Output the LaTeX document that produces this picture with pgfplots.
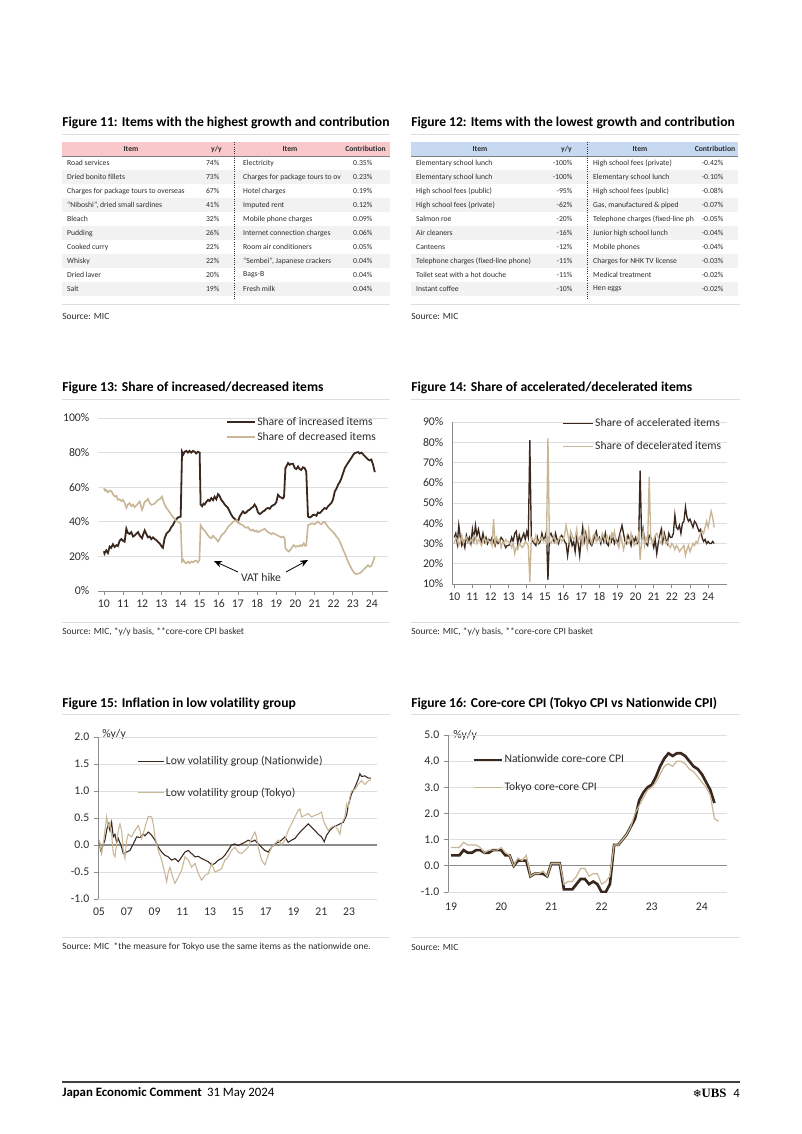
\documentclass[border=0pt]{standalone}
\usepackage{pgfplots}
\pgfplotsset{compat=1.18}
\usepackage{pgfplotstable}
\usepackage{fontspec}
\setmainfont{Carlito}[Ligatures={NoCommon,NoDiscretionary,NoContextual}]
\newfontfamily\serifb{Liberation Serif}
\newfontfamily\dejavu{DejaVu Sans}
\usetikzlibrary{arrows.meta}
\definecolor{dk}{RGB}{58,40,30}
\definecolor{tanc}{RGB}{201,182,150}
\definecolor{pinkh}{RGB}{248,200,202}
\definecolor{blueh}{RGB}{198,217,240}
\definecolor{rowg}{RGB}{242,242,242}
\definecolor{gridc}{RGB}{222,222,222}
\definecolor{axc}{RGB}{140,140,140}
\definecolor{txt}{RGB}{45,45,45}

\pgfplotstableread{
m acc dec
0 33 30
1 35 33
2 30 32
3 39 29
4 33 31
5 29 34
6 31 30
7 28 32
8 34 33
9 31 31
10 33 30
11 30 32
12 37 31
13 32 34
14 39 33
15 34 30
16 37 32
17 33 31
18 31 29
19 35 31
20 31 33
21 33 30
22 30 32
23 32 31
24 31 31
25 33 29
26 31 42
27 29 30
28 32 33
29 30 31
30 31 32
31 33 28
32 32 31
33 30 30
34 28 32
35 29 31
36 29 31
37 30 30
38 33 28
39 31 30
40 35 25
41 36 28
42 30 27
43 34 30
44 31 29
45 33 28
46 35 29
47 32 31
48 36 30
49 33 29
50 81 11
51 33 33
52 31 32
53 30 31
54 29 34
55 33 30
56 30 31
57 31 32
58 35 33
59 32 31
60 33 32
61 36 30
62 12 82
63 34 31
64 35 30
65 33 32
66 31 34
67 35 31
68 32 30
69 30 32
70 33 33
71 34 31
72 33 32
73 31 34
74 30 39
75 24 35
76 30 31
77 33 36
78 29 34
79 31 32
80 26 33
81 33 37
82 30 31
83 24 33
84 32 34
85 38 30
86 31 36
87 35 33
88 29 28
89 33 37
90 30 32
91 29 30
92 31 34
93 34 35
94 36 31
95 32 33
96 33 32
97 30 31
98 34 35
99 31 33
100 35 31
101 30 34
102 29 32
103 33 30
104 31 35
105 34 33
106 30 36
107 32 31
108 30 30
109 33 28
110 36 34
111 39 31
112 35 27
113 31 30
114 30 33
115 34 30
116 32 31
117 29 35
118 33 32
119 31 29
120 33 30
121 30 31
122 31 35
123 66 22
124 32 31
125 37 36
126 31 29
127 30 33
128 29 31
129 34 63
130 33 33
131 31 30
132 28 32
133 32 34
134 25 35
135 30 33
136 34 31
137 37 30
138 31 36
139 35 33
140 32 30
141 30 31
142 35 29
143 33 28
144 33 30
145 35 29
146 44 27
147 38 29
148 37 28
149 39 26
150 35 27
151 40 28
152 41 29
153 48 24
154 43 27
155 41 29
156 42 26
157 40 28
158 38 30
159 41 29
160 40 31
161 38 30
162 36 33
163 37 35
164 33 36
165 31 35
166 32 38
167 30 41
168 31 38
169 30 42
170 30 46
171 31 43
172 30 38
}\tabAD

\pgfplotstableread{
m nat tok
0 0.4 0.7
1 0.4 0.7
2 0.4 0.7
3 0.6 0.9
4 0.5 0.8
5 0.5 0.8
6 0.6 0.8
7 0.6 0.7
8 0.5 0.5
9 0.5 0.6
10 0.6 0.6
11 0.6 0.6
12 0.6 0.7
13 0.4 0.5
14 0.4 0.4
15 0.0 0.0
16 0.2 0.3
17 0.2 0.2
18 0.2 0.4
19 -0.4 -0.4
20 -0.3 -0.3
21 -0.3 -0.3
22 -0.3 -0.2
23 -0.4 -0.4
24 0.1 0.1
25 0.1 0.1
26 0.1 0.1
27 -0.9 -0.7
28 -0.9 -0.6
29 -0.9 -0.6
30 -0.7 -0.4
31 -0.5 -0.1
32 -0.5 -0.1
33 -0.7 -0.4
34 -0.6 -0.3
35 -0.7 -0.3
36 -1.0 -0.7
37 -1.0 -0.6
38 -0.7 -0.4
39 0.8 0.8
40 0.8 0.8
41 1.0 1.0
42 1.2 1.2
43 1.5 1.5
44 1.8 2.0
45 2.5 2.3
46 2.8 2.6
47 3.0 2.9
48 3.1 3.0
49 3.4 3.2
50 3.8 3.5
51 4.1 3.8
52 4.3 3.9
53 4.2 3.8
54 4.3 4.0
55 4.3 4.0
56 4.2 3.9
57 4.0 3.7
58 3.8 3.6
59 3.7 3.4
60 3.5 3.2
61 3.2 3.0
62 2.9 2.7
63 2.4 1.8
64 nan 1.7
}\tabCC

\pgfplotsset{
  ubs/.style={
    scale only axis, anchor=south west,
    axis line style={-, draw=axc, line width=0.6pt},
    tick style={draw=axc, line width=0.6pt},
    major tick length=3pt,
    tick align=outside,
    ymajorgrids, grid style={draw=gridc, line width=0.6pt},
    tick label style={font=\fontsize{8.8}{10}\selectfont, text=txt},
    xticklabel style={text height=6.2pt, text depth=0pt},
    /pgf/number format/assume math mode=true,
    legend style={draw=none, fill=none, font=\fontsize{8.7}{10}\selectfont, inner sep=0pt, text=txt,
      nodes={inner sep=1.2pt}},
    legend cell align=left,
    axis x line*=bottom, axis y line*=left,
  }
}

\newcommand{\tabf}{\fontsize{5.75}{6.4}\selectfont}
\newcommand{\rowA}[5]{%
  \node[anchor=west,text=txt,font=\tabf] at (62.5,#1) {#2};
  \node[anchor=east,text=txt,font=\tabf] at (224,#1) {#3};
  \node[anchor=west,text=txt,font=\tabf] at (238.5,#1) {#4};
  \node[anchor=east,text=txt,font=\tabf] at (377,#1) {#5};}
\newcommand{\rowB}[5]{%
  \node[anchor=west,text=txt,font=\tabf] at (411.5,#1) {#2};
  \node[anchor=east,text=txt,font=\tabf] at (577,#1) {#3};
  \node[anchor=west,text=txt,font=\tabf] at (588.5,#1) {#4};
  \node[anchor=east,text=txt,font=\tabf] at (728,#1) {#5};}

\begin{document}
\begin{tikzpicture}
\begin{scope}[x=0.75pt,y=-0.75pt]
\fill[white] (0,0) rectangle (802,1134);
% ---------- titles ----------
\foreach \xx/\yy/\tt in {62/123/{Figure 11: Items with the highest growth and contribution},
                          411/123/{Figure 12: Items with the lowest growth and contribution},
                          62/388/{Figure 13: Share of increased/decreased items},
                          411/388/{Figure 14: Share of accelerated/decelerated items},
                          62/704/{Figure 15: Inflation in low volatility group},
                          411/704/{Figure 16: Core-core CPI (Tokyo CPI vs Nationwide CPI)}}
  {\node[anchor=west,inner sep=0pt,font=\fontsize{10.2}{12}\selectfont\bfseries] at (\xx,\yy) {\tt};}
\foreach \yy in {134,399,714}{
  \draw[gridc,line width=0.6pt] (62,\yy) -- (390,\yy);
  \draw[gridc,line width=0.6pt] (411,\yy) -- (740,\yy);}
% ---------- sources ----------
\draw[gridc,line width=0.6pt] (62,304) -- (390,304);
\draw[gridc,line width=0.6pt] (411,304) -- (740,304);
\draw[gridc,line width=0.6pt] (62,622) -- (390,622);
\draw[gridc,line width=0.6pt] (411,622) -- (740,622);
\draw[gridc,line width=0.6pt] (62,937) -- (390,937);
\draw[gridc,line width=0.6pt] (411,937) -- (740,937);
\begin{scope}[every node/.style={anchor=west,inner sep=0pt,text=txt,font=\fontsize{7.1}{8}\selectfont}]
\node at (62,316) {Source: MIC};
\node at (411,316) {Source: MIC};
\node at (62,632) {Source: MIC, *y/y basis, **core-core CPI basket};
\node at (411,632) {Source: MIC, *y/y basis, **core-core CPI basket};
\node at (62,947) {Source: MIC \ *the measure for Tokyo use the same items as the nationwide one.};
\node at (411,947) {Source: MIC};
\end{scope}
% ---------- table 11 ----------
\fill[pinkh] (62,142) rectangle (390,156);
\foreach \i in {1,3,5,7,9} {\fill[rowg] (62,156+14*\i) rectangle (390,170+14*\i);}
\draw[gray,line width=0.9pt] (62,156.5) -- (390,156.5);
\draw[black!80,densely dotted,line width=0.7pt] (234,142) -- (234,300);
\begin{scope}[every node/.style={text=txt,font=\tabf\bfseries}]
\node at (131,149) {Item};
\node at (216.5,149) {y/y};
\node at (290,149) {Item};
\node at (365.5,149) {Contribution};
\end{scope}
\rowA{163}{Road services}{74\%}{Electricity}{0.35\%}
\rowA{177}{Dried bonito fillets}{73\%}{Charges for package tours to ov}{0.23\%}
\rowA{191}{Charges for package tours to overseas}{67\%}{Hotel charges}{0.19\%}
\rowA{205}{“Niboshi”, dried small sardines}{41\%}{Imputed rent}{0.12\%}
\rowA{219}{Bleach}{32\%}{Mobile phone charges}{0.09\%}
\rowA{233}{Pudding}{26\%}{Internet connection charges}{0.06\%}
\rowA{247}{Cooked curry}{22\%}{Room air conditioners}{0.05\%}
\rowA{261}{Whisky}{22\%}{“Sembei”, Japanese crackers}{0.04\%}
\rowA{275}{Dried laver}{20\%}{Bags-B}{0.04\%}
\rowA{289}{Salt}{19\%}{Fresh milk}{0.04\%}
% ---------- table 12 ----------
\fill[blueh] (411,142) rectangle (738,156);
\foreach \i in {1,3,5,7,9} {\fill[rowg] (411,156+14*\i) rectangle (738,170+14*\i);}
\draw[gray,line width=0.9pt] (411,156.5) -- (738,156.5);
\draw[black!80,densely dotted,line width=0.7pt] (587.5,142) -- (587.5,300);
\begin{scope}[every node/.style={text=txt,font=\tabf\bfseries}]
\node at (480,149) {Item};
\node at (566.5,149) {y/y};
\node at (640,149) {Item};
\node at (715,149) {Contribution};
\end{scope}
\rowB{163}{Elementary school lunch}{-100\%}{High school fees (private)}{-0.42\%}
\rowB{177}{Elementary school lunch}{-100\%}{Elementary school lunch}{-0.10\%}
\rowB{191}{High school fees (public)}{-95\%}{High school fees (public)}{-0.08\%}
\rowB{205}{High school fees (private)}{-62\%}{Gas, manufactured \& piped}{-0.07\%}
\rowB{219}{Salmon roe}{-20\%}{Telephone charges (fixed-line ph}{-0.05\%}
\rowB{233}{Air cleaners}{-16\%}{Junior high school lunch}{-0.04\%}
\rowB{247}{Canteens}{-12\%}{Mobile phones}{-0.04\%}
\rowB{261}{Telephone charges (fixed-line phone)}{-11\%}{Charges for NHK TV license}{-0.03\%}
\rowB{275}{Toilet seat with a hot douche}{-11\%}{Medical treatment}{-0.02\%}
\rowB{289}{Instant coffee}{-10\%}{Hen eggs}{-0.02\%}
% ---------- annotations ----------
\node[text=txt,font=\fontsize{8.8}{10}\selectfont] at (261,577) {VAT hike};
\draw[black,line width=0.6pt,-{Stealth[length=6pt,width=5pt]}] (238,572) -- (214,561);
\draw[black,line width=0.6pt,-{Stealth[length=6pt,width=5pt]}] (286,572) -- (308,560);
\node[anchor=west,inner sep=0pt,text=txt,font=\fontsize{8.8}{10}\selectfont] at (102,734) {\%y/y};
\node[anchor=west,inner sep=0pt,text=txt,font=\fontsize{8.8}{10}\selectfont] at (453,735) {\%y/y};
% ---------- footer ----------
\draw[black!75,line width=0.8pt] (62,1082) -- (740,1082);
\node[anchor=west,inner sep=0pt,font=\fontsize{9.6}{11}\selectfont] at (62,1093) {\textbf{Japan Economic Comment}\hspace{4pt}31 May 2024};
\node[anchor=east,inner sep=0pt,font=\fontsize{9.6}{11}\selectfont] at (740,1093) {{\dejavu\fontsize{8}{9}\selectfont ❄}{\serifb\bfseries UBS}\hspace{5pt}4};
\end{scope}

% ================= Figure 13 =================
\begin{axis}[ubs, at={(73.5pt,-443.25pt)}, width=217.5pt, height=129.75pt,
  xmin=2009.69, xmax=2024.84, ymin=0, ymax=100,
  xtick={2010,2011,2012,2013,2014,2015,2016,2017,2018,2019,2020,2021,2022,2023,2024},
  xticklabels={10,11,12,13,14,15,16,17,18,19,20,21,22,23,24},
  ytick={0,20,40,60,80,100}, yticklabel={\pgfmathprintnumber{\tick}\%},
  y axis line style={draw=none}, ytick style={draw=none},
  legend style={at={(axis description cs:0.44,1.015)}, anchor=north west, row sep=1.2pt},
  legend image code/.code={\draw[#1] (0pt,0pt) -- (21pt,0pt);},
]
\addplot[dk, line width=1.35pt] coordinates {
(2010.00,23) (2010.03,21.6) (2010.12,23.5) (2010.21,22) (2010.30,25.7) (2010.38,25) (2010.47,27) (2010.56,25.5) (2010.65,26.5) (2010.73,26) (2010.82,29) (2010.91,30) (2011.00,29) (2011.08,28.5) (2011.17,36) (2011.25,33.5) (2011.34,33) (2011.43,34) (2011.52,31.5) (2011.60,32) (2011.69,33) (2011.78,34) (2011.87,32) (2011.99,30.5) (2012.06,33) (2012.13,35) (2012.21,33) (2012.30,31) (2012.39,31.5) (2012.47,30) (2012.56,31) (2012.65,30) (2012.73,29.5) (2012.82,28.5) (2012.91,27.5) (2013.00,26) (2013.08,25) (2013.17,30.5) (2013.26,33) (2013.34,34) (2013.43,35) (2013.52,37) (2013.60,38) (2013.69,40) (2013.78,41.5) (2013.87,42.5) (2014.01,43)
(2014.08,80.5) (2014.15,79) (2014.22,80.5) (2014.30,81) (2014.39,80) (2014.47,81) (2014.56,80) (2014.65,81) (2014.74,80.5) (2014.82,79.5) (2014.91,80.5) (2015.00,80)
(2015.05,50) (2015.13,49) (2015.20,50.5) (2015.26,50) (2015.35,51.5) (2015.44,52.7) (2015.52,52) (2015.61,53.7) (2015.70,52.5) (2015.78,54.5) (2015.87,53) (2015.96,56) (2016.04,55) (2016.13,52.7) (2016.22,51.5) (2016.31,50) (2016.40,49) (2016.48,48) (2016.57,46) (2016.66,44) (2016.75,42.5) (2016.83,41.7) (2016.92,41) (2017.00,40) (2017.09,43) (2017.17,44.5) (2017.26,46) (2017.35,45) (2017.44,45.4) (2017.52,46.5) (2017.61,47) (2017.70,48) (2017.78,48.5) (2017.87,50) (2017.96,48.5) (2018.05,45.4) (2018.13,44.5) (2018.22,45) (2018.31,46) (2018.40,46.5) (2018.48,47.5) (2018.57,48) (2018.66,47.5) (2018.75,49) (2018.83,49.5) (2018.92,50) (2019.01,51.5) (2019.09,55.6) (2019.18,54.5) (2019.27,54) (2019.35,53.5) (2019.41,54.5)
(2019.48,71) (2019.55,72.5) (2019.62,74) (2019.70,73) (2019.79,73.5) (2019.88,73.5) (2019.97,71) (2020.05,70.5) (2020.14,72) (2020.22,70.5) (2020.31,70) (2020.40,71.5) (2020.49,71) (2020.57,69)
(2020.66,43) (2020.75,42.5) (2020.84,43) (2020.92,44) (2021.01,44) (2021.10,43.5) (2021.18,45.4) (2021.27,45) (2021.36,46) (2021.44,47) (2021.53,48) (2021.62,47.5) (2021.71,49) (2021.80,50) (2021.88,50.8) (2021.97,53) (2022.06,57.5) (2022.14,59) (2022.23,61.4) (2022.32,63) (2022.40,65) (2022.49,68) (2022.58,71) (2022.66,72.5) (2022.75,74) (2022.84,75.5) (2022.93,77) (2023.01,78.5) (2023.10,79.7) (2023.19,80) (2023.28,80.3) (2023.36,79.5) (2023.45,80) (2023.54,79) (2023.62,78) (2023.71,77) (2023.80,76) (2023.88,75.5) (2023.97,76) (2024.06,73) (2024.15,68.7)
};
\addlegendentry{Share of increased items}
\addplot[tanc, line width=1.2pt] coordinates {
(2010.00,59.5) (2010.06,58) (2010.12,58.5) (2010.21,57) (2010.30,58) (2010.38,57.8) (2010.47,56) (2010.56,54.6) (2010.65,55) (2010.73,52.7) (2010.82,53) (2010.91,52) (2010.99,52.7) (2011.08,51) (2011.17,48) (2011.25,50) (2011.34,50.8) (2011.43,49) (2011.52,50) (2011.60,48.5) (2011.69,49.5) (2011.78,50.5) (2011.87,51.7) (2011.99,46.9) (2012.06,49) (2012.13,51.7) (2012.21,52) (2012.30,53.3) (2012.39,51) (2012.47,49.8) (2012.56,50) (2012.65,50.5) (2012.73,51.5) (2012.82,52.7) (2012.91,53) (2013.03,54.6) (2013.10,52) (2013.17,50) (2013.26,48) (2013.34,47) (2013.43,45.5) (2013.52,44) (2013.60,43) (2013.69,41.7) (2013.78,40.5) (2013.87,40) (2014.01,39)
(2014.08,17) (2014.15,18) (2014.22,16.5) (2014.30,16) (2014.39,17) (2014.47,16) (2014.56,17) (2014.65,16.5) (2014.74,17.5) (2014.82,17.5) (2014.91,16.5) (2014.99,18)
(2015.05,38) (2015.13,36.5) (2015.20,35.5) (2015.26,35) (2015.35,33.5) (2015.44,32) (2015.52,31) (2015.61,30.5) (2015.70,32) (2015.78,31) (2015.87,30) (2015.96,28.6) (2016.04,30) (2016.13,32) (2016.22,33) (2016.31,34) (2016.40,35.5) (2016.48,37) (2016.57,38) (2016.66,39) (2016.75,40) (2016.83,40.5) (2016.92,41) (2017.00,40) (2017.09,39) (2017.17,38.5) (2017.26,38) (2017.35,37) (2017.44,36.5) (2017.52,37) (2017.61,35.5) (2017.70,35) (2017.78,35.5) (2017.87,34.5) (2017.96,35) (2018.05,34) (2018.13,34.5) (2018.22,35) (2018.31,35.5) (2018.40,36) (2018.48,35) (2018.57,34) (2018.66,33.5) (2018.75,32.8) (2018.83,33.5) (2018.92,33) (2019.01,32.5) (2019.09,32) (2019.18,31.5) (2019.27,31) (2019.35,31.5) (2019.44,30.5)
(2019.48,24.7) (2019.57,23.5) (2019.66,22.8) (2019.75,24) (2019.84,25.5) (2019.92,26.6) (2020.01,25.5) (2020.10,26) (2020.18,25.7) (2020.27,26.5) (2020.35,26) (2020.44,27.6) (2020.52,26) (2020.57,26.5)
(2020.66,38) (2020.75,38.5) (2020.84,39) (2020.92,39) (2021.01,38.5) (2021.10,39.5) (2021.18,40) (2021.27,39) (2021.36,38.6) (2021.44,39.5) (2021.53,40) (2021.62,38.5) (2021.71,37) (2021.80,36) (2021.88,35) (2021.97,34) (2022.06,33) (2022.14,31.5) (2022.23,30.5) (2022.32,28.5) (2022.40,26.6) (2022.49,24) (2022.58,21.8) (2022.66,19.5) (2022.75,17) (2022.84,15) (2022.93,13) (2023.01,11.5) (2023.10,10.2) (2023.19,9.8) (2023.28,10.2) (2023.36,10.2) (2023.45,11) (2023.54,12) (2023.62,13) (2023.71,14) (2023.80,15) (2023.88,14) (2023.97,14.5) (2024.06,17) (2024.15,20)
};
\addlegendentry{Share of decreased items}
\end{axis}

% ================= Figure 14 =================
\begin{axis}[ubs, at={(339pt,-438pt)}, width=206.25pt, height=121.5pt,
  xmin=-1.5, xmax=180.5, ymin=10, ymax=90,
  xtick={0,12,24,36,48,60,72,84,96,108,120,132,144,156,168},
  xticklabels={10,11,12,13,14,15,16,17,18,19,20,21,22,23,24},
  ytick={10,20,30,40,50,60,70,80,90}, yticklabel={\pgfmathprintnumber{\tick}\%},
  ytick style={draw=none},
  legend style={at={(axis description cs:0.40,1.035)}, anchor=north west, row sep=7.5pt},
  legend image code/.code={\draw[#1] (0pt,0pt) -- (22.5pt,0pt);},
]
\addplot[dk, line width=1.0pt] table[x=m, y=acc] {\tabAD};
\addlegendentry{Share of accelerated items}
\addplot[tanc, line width=1.0pt] table[x=m, y=dec] {\tabAD};
\addlegendentry{Share of decelerated items}
\end{axis}

% ================= Figure 15 =================
\begin{axis}[ubs, at={(73.5pt,-674.25pt)}, width=209.25pt, height=121.5pt,
  xmin=2004.93, xmax=2025.01, ymin=-1, ymax=2,
  xtick={2005,2007,2009,2011,2013,2015,2017,2019,2021,2023},
  xticklabels={05,07,09,11,13,15,17,19,21,23},
  x axis line style={draw=none}, xtick style={draw=none},
  ytick={-1,-0.5,0,0.5,1,1.5,2},
  yticklabel style={/pgf/number format/.cd, fixed, fixed zerofill, precision=1},
  extra y ticks={0}, extra y tick labels={},
  extra y tick style={grid style={draw=axc, line width=0.8pt}, major tick length=0pt},
  legend style={at={(axis description cs:0.14,0.895)}, anchor=north west, row sep=13.5pt},
  legend image code/.code={\draw[#1] (0pt,0pt) -- (19.5pt,0pt);},
]
\addplot[dk, line width=0.8pt] coordinates {
(2005.02,0.09) (2005.12,-0.1) (2005.24,-0.04) (2005.43,0.09) (2005.55,0.27) (2005.67,0.39) (2005.79,0.27) (2005.91,0.42) (2006.03,0.15) (2006.15,0.2) (2006.27,0.05) (2006.39,0.12) (2006.63,-0.04) (2006.75,-0.16) (2006.99,-0.13) (2007.23,-0.1) (2007.47,0.02) (2007.71,0.15) (2007.95,0.14) (2008.19,0.2) (2008.31,0.17) (2008.55,0.24) (2008.79,0.18) (2009.03,0.09) (2009.27,-0.04) (2009.51,-0.13) (2009.75,-0.19) (2009.99,-0.22) (2010.23,-0.28) (2010.47,-0.25) (2010.71,-0.31) (2010.95,-0.22) (2011.19,-0.13) (2011.43,-0.1) (2011.67,-0.16) (2011.91,-0.22) (2012.15,-0.21) (2012.39,-0.25) (2012.63,-0.28) (2012.87,-0.31) (2013.11,-0.37) (2013.35,-0.34) (2013.59,-0.28) (2013.82,-0.25) (2014.06,-0.19) (2014.30,-0.1) (2014.54,0.0) (2014.78,0.02) (2015.02,-0.01) (2015.26,0.02) (2015.50,0.05) (2015.74,0.09) (2015.98,0.06) (2016.22,0.09) (2016.46,0.02) (2016.70,-0.04) (2016.94,-0.1) (2017.18,-0.13) (2017.42,-0.04) (2017.66,0.02) (2017.90,0.05) (2018.14,0.09) (2018.38,0.15) (2018.62,0.05) (2018.86,0.09) (2019.10,0.12) (2019.34,0.2) (2019.58,0.27) (2019.82,0.33) (2020.06,0.39) (2020.30,0.33) (2020.54,0.27) (2020.78,0.2) (2021.02,0.15) (2021.21,0.06) (2021.38,0.18) (2021.62,0.27) (2021.86,0.33) (2022.10,0.36) (2022.34,0.39) (2022.58,0.42) (2022.82,0.55) (2022.94,0.73) (2023.18,0.95) (2023.42,1.07) (2023.66,1.22) (2023.78,1.32) (2023.90,1.27) (2024.14,1.28) (2024.38,1.24) (2024.57,1.24)
};
\addlegendentry{Low volatility group (Nationwide)}
\addplot[tanc, line width=0.8pt] coordinates {
(2005.02,0.09) (2005.19,-0.16) (2005.31,0.02) (2005.43,0.27) (2005.55,0.52) (2005.67,0.33) (2005.79,0.42) (2005.91,0.2) (2006.03,-0.16) (2006.15,-0.22) (2006.27,0.02) (2006.39,0.27) (2006.51,0.39) (2006.63,0.27) (2006.75,-0.1) (2006.87,-0.25) (2006.99,0.09) (2007.11,0.2) (2007.35,0.15) (2007.59,0.27) (2007.83,0.36) (2007.95,0.27) (2008.07,0.12) (2008.19,0.21) (2008.31,0.33) (2008.55,0.53) (2008.79,0.52) (2008.91,0.39) (2009.03,0.15) (2009.27,-0.1) (2009.51,-0.28) (2009.75,-0.53) (2009.87,-0.68) (2009.99,-0.5) (2010.11,-0.41) (2010.23,-0.53) (2010.47,-0.71) (2010.71,-0.59) (2010.95,-0.47) (2011.07,-0.34) (2011.19,-0.22) (2011.43,-0.28) (2011.67,-0.41) (2011.91,-0.34) (2012.15,-0.53) (2012.39,-0.65) (2012.63,-0.56) (2012.87,-0.53) (2013.11,-0.34) (2013.35,-0.5) (2013.59,-0.47) (2013.82,-0.44) (2014.06,-0.28) (2014.30,-0.22) (2014.54,-0.1) (2014.78,-0.04) (2015.02,-0.13) (2015.26,-0.16) (2015.50,-0.1) (2015.74,-0.04) (2015.98,0.12) (2016.22,0.24) (2016.34,0.15) (2016.46,-0.04) (2016.70,-0.28) (2016.94,-0.37) (2017.06,-0.28) (2017.18,-0.19) (2017.42,-0.04) (2017.66,0.02) (2017.90,0.09) (2018.14,0.0) (2018.38,0.09) (2018.62,0.27) (2018.86,0.39) (2019.10,0.52) (2019.34,0.64) (2019.46,0.67) (2019.58,0.52) (2019.82,0.55) (2020.06,0.58) (2020.30,0.52) (2020.54,0.55) (2020.78,0.57) (2021.02,0.61) (2021.14,0.46) (2021.26,0.39) (2021.38,0.33) (2021.50,0.27) (2021.74,0.33) (2021.98,0.36) (2022.22,0.27) (2022.34,0.2) (2022.46,0.39) (2022.70,0.52) (2022.82,0.76) (2022.94,0.70) (2023.06,0.89) (2023.18,1.0) (2023.42,1.03) (2023.66,1.13) (2023.90,1.19) (2024.14,1.12) (2024.38,1.19) (2024.57,1.2)
};
\addlegendentry{Low volatility group (Tokyo)}
\end{axis}

% ================= Figure 16 =================
\begin{axis}[ubs, at={(336pt,-669pt)}, width=209.25pt, height=117.75pt,
  xmin=-0.72, xmax=66, ymin=-1, ymax=5,
  xtick={0,12,24,36,48,60},
  xticklabels={19,20,21,22,23,24},
  xticklabel style={yshift=-0.8pt},
  x axis line style={draw=none}, xtick style={draw=none},
  ytick={-1,0,1,2,3,4,5},
  yticklabel style={/pgf/number format/.cd, fixed, fixed zerofill, precision=1},
  extra y ticks={0}, extra y tick labels={},
  extra y tick style={grid style={draw=axc, line width=0.8pt}, major tick length=0pt},
  legend style={at={(axis description cs:0.086,0.885)}, anchor=north west, row sep=10.5pt},
  legend image code/.code={\draw[#1] (0pt,0pt) -- (21pt,0pt);},
]
\addplot[dk, line width=2pt] table[x=m, y=nat] {\tabCC};
\addlegendentry{Nationwide core-core CPI}
\addplot[tanc, line width=0.9pt] table[x=m, y=tok] {\tabCC};
\addlegendentry{Tokyo core-core CPI}
\end{axis}
\end{tikzpicture}
\end{document}
